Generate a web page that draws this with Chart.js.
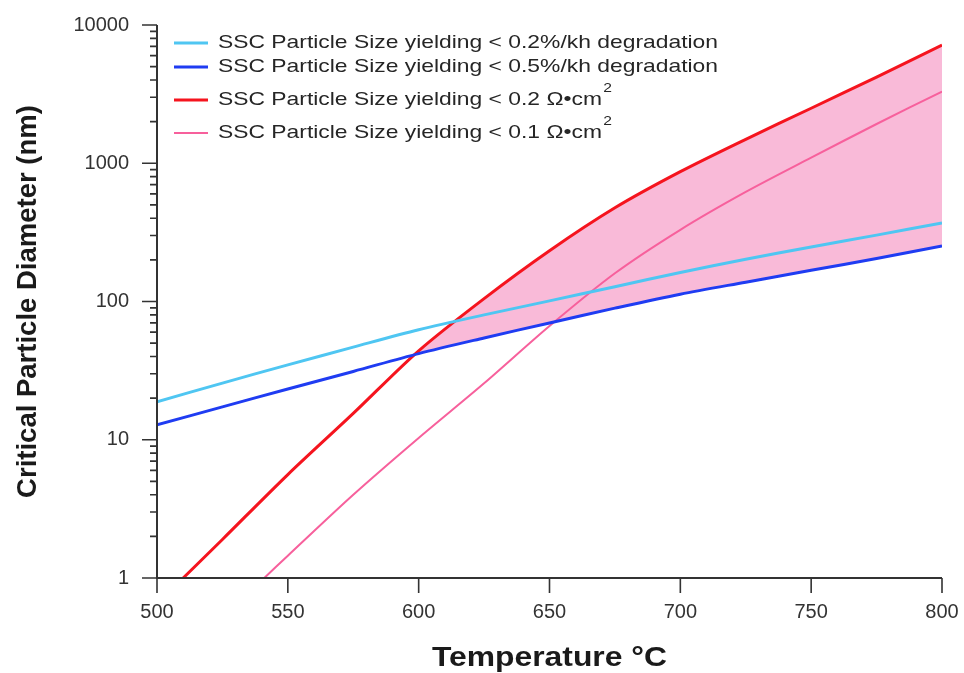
<!DOCTYPE html>
<html>
<head>
<meta charset="utf-8">
<script src="https://cdn.jsdelivr.net/npm/chart.js@4.4.0/dist/chart.umd.min.js"></script>
<style>
  html, body { margin: 0; padding: 0; background: #fff; }
  #wrap { width: 964px; height: 673px; }
</style>
</head>
<body>
<div id="wrap"><canvas id="grafico"></canvas></div>
<script>
// datos
const tempsBlue = [500, 525, 550, 575, 600, 625, 650, 675, 700, 725, 750, 775, 800];
const celeste = [18.8, 25.7, 34.8, 46.8, 62.5, 80, 101, 128, 162, 202, 248, 302, 370];
const azul = [12.8, 17.3, 23.3, 31.2, 42, 54.5, 70, 89.5, 113, 138, 168, 205, 252];
const tempsRojo = [510, 525, 550, 575, 600, 625, 650, 675, 700, 725, 750, 775, 800];
const rojo = [1, 1.9, 5.6, 15.5, 44, 105, 233, 476, 869, 1490, 2500, 4200, 7170];
const tempsRosa = [541, 550, 575, 600, 625, 650, 675, 700, 725, 750, 775, 800];
const rosa = [1, 1.45, 4.0, 10.3, 25.6, 66.5, 160, 330, 620, 1097, 1923, 3300];

const yTicks = [1, 10, 100, 1000, 10000];
const xTicks = [500, 550, 600, 650, 700, 750, 800];

const etiquetas = [
  "SSC Particle Size yielding < 0.2%/kh degradation",
  "SSC Particle Size yielding < 0.5%/kh degradation",
  "SSC Particle Size yielding < 0.2 \u03A9\u2022cm",
  "SSC Particle Size yielding < 0.1 \u03A9\u2022cm",
];
const superindices = ["", "", "2", "2"];
const tituloX = "Temperature \u00B0C";
const tituloY = "Critical Particle Diameter (nm)";

const colores = ["#4fc6f2", "#1f3cf2", "#f5141e", "#f7609c"];
const anchos = [3, 3, 3, 2];
const relleno = "rgba(249, 186, 216, 1)";
const fuente = "'Liberation Sans', Arial, sans-serif";

function puntos(xs, ys) {
  return xs.map((x, i) => ({ x: x, y: ys[i] }));
}

// ejes dibujados a mano (lineas y ticks)
const ejesPlugin = {
  id: "ejes",
  afterDatasetsDraw(chart) {
    const { ctx, chartArea: a, scales } = chart;
    const x = scales.x;
    const y = scales.y;
    ctx.save();
    ctx.strokeStyle = "#333";
    ctx.lineWidth = 2;
    ctx.beginPath();
    ctx.moveTo(a.left, a.top);
    ctx.lineTo(a.left, a.bottom);
    ctx.lineTo(a.right, a.bottom);
    ctx.stroke();

    ctx.lineWidth = 1.6;
    ctx.beginPath();
    yTicks.forEach((v) => {
      const py = y.getPixelForValue(v);
      ctx.moveTo(a.left - 15, py);
      ctx.lineTo(a.left, py);
    });
    for (let d = 1; d < 10000; d *= 10) {
      for (let m = 2; m <= 9; m++) {
        const py = y.getPixelForValue(d * m);
        ctx.moveTo(a.left - 7, py);
        ctx.lineTo(a.left, py);
      }
    }
    xTicks.forEach((v) => {
      const px = x.getPixelForValue(v);
      ctx.moveTo(px, a.bottom);
      ctx.lineTo(px, a.bottom + 15);
    });
    ctx.stroke();

    // titulo eje x (ensanchado como en el original)
    ctx.font = "bold 28px " + fuente;
    ctx.fillStyle = "#1a1a1a";
    ctx.textBaseline = "middle";
    ctx.textAlign = "center";
    const wx = ctx.measureText(tituloX).width;
    const sx = 235 / wx;
    ctx.translate((a.left + a.right) / 2, 658);
    ctx.scale(sx, 1);
    ctx.fillText(tituloX, 0, 0);
    ctx.restore();
  },
};

// leyenda dentro del area
const leyendaPlugin = {
  id: "leyenda",
  afterDraw(chart) {
    const ctx = chart.ctx;
    const filas = [43, 67, 100, 133];
    ctx.save();
    ctx.font = "19px " + fuente;
    const escala = 500 / ctx.measureText(etiquetas[0]).width;
    ctx.textBaseline = "middle";
    ctx.fillStyle = "#262626";
    etiquetas.forEach((t, i) => {
      const yy = filas[i];
      ctx.strokeStyle = colores[i];
      ctx.lineWidth = anchos[i];
      ctx.beginPath();
      ctx.moveTo(174, yy);
      ctx.lineTo(208, yy);
      ctx.stroke();
      ctx.save();
      ctx.translate(218, yy);
      ctx.scale(escala, 1);
      ctx.font = "19px " + fuente;
      ctx.fillText(t, 0, 0);
      if (superindices[i]) {
        const w = ctx.measureText(t).width;
        ctx.font = "13px " + fuente;
        ctx.fillText(superindices[i], w + 1, -12);
      }
      ctx.restore();
    });
    ctx.restore();
  },
};

new Chart(document.getElementById("grafico"), {
  type: "line",
  data: {
    datasets: [
      {
        label: etiquetas[0],
        data: puntos(tempsBlue, celeste),
        borderColor: colores[0],
        borderWidth: anchos[0],
        pointRadius: 0,
        tension: 0.3,
        fill: false,
      },
      {
        label: etiquetas[1],
        data: puntos(tempsBlue, azul),
        borderColor: colores[1],
        borderWidth: anchos[1],
        pointRadius: 0,
        tension: 0.3,
        fill: false,
      },
      {
        label: etiquetas[2],
        data: puntos(tempsRojo, rojo),
        borderColor: colores[2],
        borderWidth: anchos[2],
        pointRadius: 0,
        tension: 0.3,
        fill: { target: 1, above: relleno, below: "rgba(0,0,0,0)" },
      },
      {
        label: etiquetas[3],
        data: puntos(tempsRosa, rosa),
        borderColor: colores[3],
        borderWidth: anchos[3],
        pointRadius: 0,
        tension: 0.3,
        fill: false,
      },
    ],
  },
  options: {
    responsive: true,
    maintainAspectRatio: false,
    animation: false,
    layout: { padding: { left: 0, top: 25, right: 22, bottom: 0 } },
    plugins: {
      legend: { display: false },
      tooltip: { enabled: false },
      filler: { drawTime: "beforeDatasetsDraw" },
    },
    scales: {
      x: {
        type: "linear",
        min: 500,
        max: 800,
        afterBuildTicks: (s) => {
          s.ticks = xTicks.map((v) => ({ value: v }));
        },
        afterFit: (s) => {
          s.height = 95;
          s.paddingLeft = 0;
          s.paddingRight = 0;
        },
        grid: { display: false, drawTicks: false },
        border: { display: false },
        ticks: {
          padding: 22,
          color: "#333",
          font: { family: fuente, size: 20 },
        },
      },
      y: {
        type: "logarithmic",
        min: 1,
        max: 10000,
        afterBuildTicks: (s) => {
          s.ticks = yTicks.map((v) => ({ value: v }));
        },
        afterFit: (s) => {
          s.width = 157;
          s.paddingTop = 0;
          s.paddingBottom = 0;
        },
        grid: { display: false, drawTicks: false },
        border: { display: false },
        ticks: {
          padding: 28,
          color: "#333",
          font: { family: fuente, size: 20 },
          callback: (v) => String(v),
        },
        title: {
          display: true,
          text: tituloY,
          color: "#1a1a1a",
          font: { family: fuente, size: 27.5, weight: "bold" },
          padding: { top: 12, bottom: 0 },
        },
      },
    },
  },
  plugins: [ejesPlugin, leyendaPlugin],
});
</script>
</body>
</html>
